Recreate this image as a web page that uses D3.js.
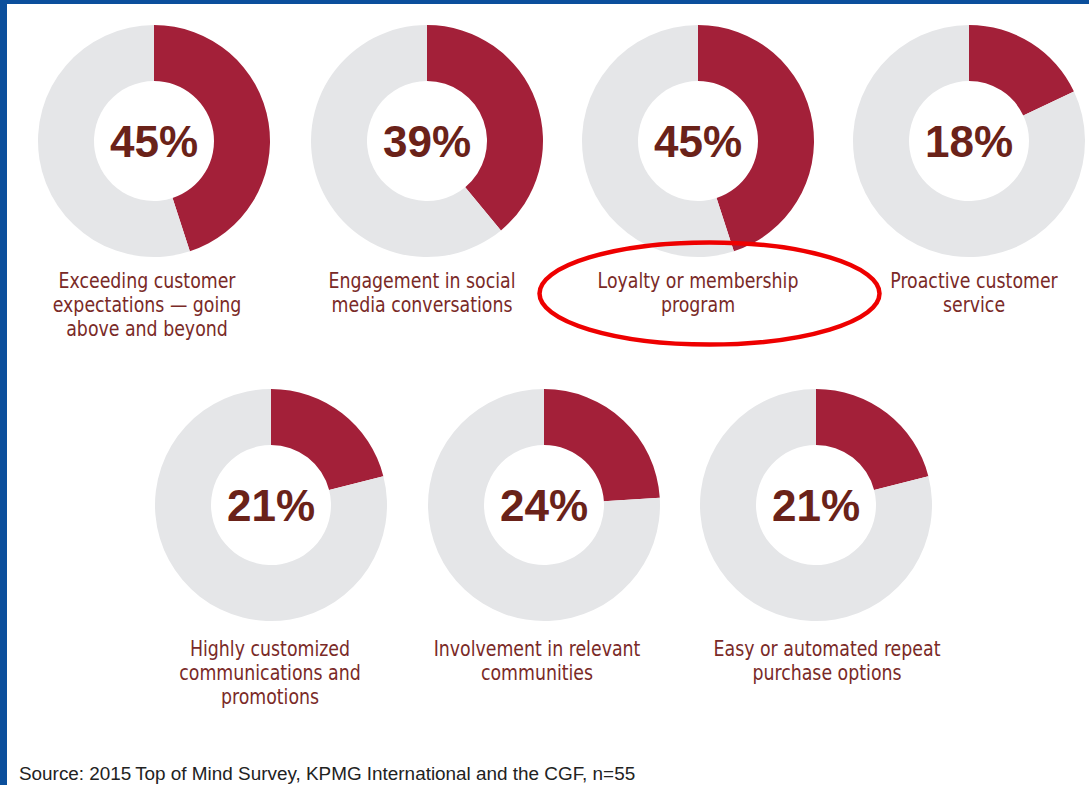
<!DOCTYPE html>
<html>
<head>
<meta charset="utf-8">
<script src="https://cdn.jsdelivr.net/npm/d3@7"></script>
<style>
  html, body { margin: 0; padding: 0; background: #fff; }
  svg { display: block; }
</style>
</head>
<body>
<svg id="chart" width="1089" height="785"></svg>
<script>
// Share of respondents naming each driver (percent)
const categories = [
  ["Exceeding customer", "expectations \u2014 going", "above and beyond"],
  ["Engagement in social", "media conversations"],
  ["Loyalty or membership", "program"],
  ["Proactive customer", "service"],
  ["Highly customized", "communications and", "promotions"],
  ["Involvement in relevant", "communities"],
  ["Easy or automated repeat", "purchase options"]
];
const values = [45, 39, 45, 18, 21, 24, 21];
const highlighted = [2];   // circled item
const sourceNote = "Source: 2015\u2009Top of Mind Survey, KPMG International and the CGF, n=55";

// Layout
const W = 1089, H = 785;
const outerR = 116, innerR = 60;
const rows = [
  { y: 141, xs: [154, 427, 698, 969], labelY: 147 },
  { y: 505, xs: [271, 544, 816], labelY: 151 }
];
const labelShift = [-7, -5, 0, 5, -1, -7, 11];
const centers = rows.flatMap(r => r.xs.map(x => ({ x, y: r.y, labelY: r.labelY })));
const labelSqueeze = 0.92;

const colors = { share: "#a32039", rest: "#e5e6e8", pct: "#6a2219", label: "#7a2a27" };

const svg = d3.select("#chart");

// frame
svg.append("rect").attr("x", 0).attr("y", 0).attr("width", W).attr("height", 4).attr("fill", "#0b4f9c");
svg.append("rect").attr("x", 0).attr("y", 0).attr("width", 7).attr("height", H).attr("fill", "#0b4f9c");

const pie = d3.pie().sort(null).value(d => d);
const arc = d3.arc().innerRadius(innerR).outerRadius(outerR);
const pctFmt = v => d3.format("d")(v) + "%";

const g = svg.selectAll("g.donut")
  .data(values.map((v, i) => ({ v, i, c: centers[i], lines: categories[i] })))
  .join("g")
  .attr("class", "donut")
  .attr("transform", d => `translate(${d.c.x},${d.c.y})`);

g.selectAll("path")
  .data(d => pie([d.v, 100 - d.v]))
  .join("path")
  .attr("d", arc)
  .attr("fill", (d, j) => j === 0 ? colors.share : colors.rest);

g.append("text")
  .attr("text-anchor", "middle")
  .attr("y", 16)
  .attr("font-family", "'Liberation Sans', Arial, sans-serif")
  .attr("font-weight", 700)
  .attr("font-size", 44)
  .attr("fill", colors.pct)
  .text(d => pctFmt(d.v));

g.each(function(d) {
  const t = d3.select(this).append("g")
    .attr("transform", `translate(${labelShift[d.i]},${d.c.labelY}) scale(${labelSqueeze},1)`)
    .append("text")
    .attr("text-anchor", "middle")
    .attr("font-family", "'Liberation Sans Narrow', 'DejaVu Sans Condensed', sans-serif")
    .attr("font-size", 21)
    .attr("fill", colors.label);
  d.lines.forEach((ln, k) => {
    t.append("tspan").attr("x", 0).attr("y", k * 24).text(ln);
  });
});

// annotation ring around the highlighted item's label
highlighted.forEach(i => {
  svg.append("ellipse")
    .attr("cx", centers[i].x + 11.5)
    .attr("cy", centers[i].y + 152.5)
    .attr("rx", 170)
    .attr("ry", 51)
    .attr("fill", "none")
    .attr("stroke", "#ee0000")
    .attr("stroke-width", 4.5);
});

svg.append("text")
  .attr("x", 19)
  .attr("y", 780)
  .attr("font-family", "'Liberation Sans', Arial, sans-serif")
  .attr("font-size", 18.9)
  .attr("fill", "#222")
  .text(sourceNote);
</script>
</body>
</html>
